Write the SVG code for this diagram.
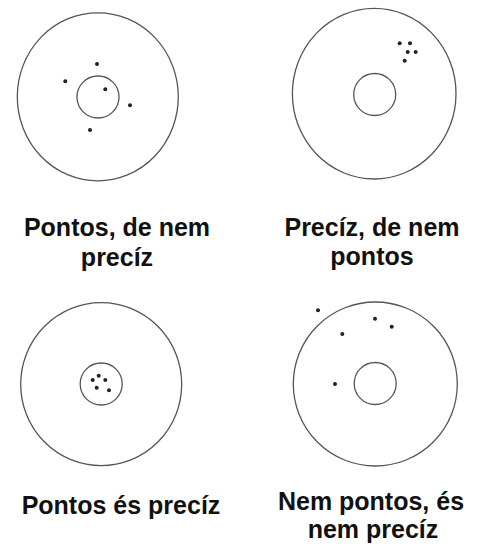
<svg xmlns="http://www.w3.org/2000/svg" width="481" height="546" viewBox="0 0 481 546">
<style>
.ring{fill:none;stroke:#555;stroke-width:1.3}
.dot{fill:#222}
.lbl{font-family:"Liberation Sans",Arial,sans-serif;font-weight:bold;font-size:25px;fill:#111;text-anchor:middle}
</style>
<rect width="481" height="546" fill="#fff"/>
<g id="target1">
<ellipse class="ring" cx="97.8" cy="96.8" rx="80.5" ry="84"/>
<circle class="ring" cx="98" cy="97" r="21"/>
<circle class="dot" cx="97" cy="64" r="2"/>
<circle class="dot" cx="65.3" cy="81.3" r="2"/>
<circle class="dot" cx="105.3" cy="89.3" r="2"/>
<circle class="dot" cx="130" cy="105.3" r="2"/>
<circle class="dot" cx="90" cy="130" r="2"/>
<text class="lbl" x="117" y="236">Pontos, de nem</text>
<text class="lbl" x="117" y="266">precíz</text>
</g>
<g id="target2">
<ellipse class="ring" cx="374.2" cy="93.7" rx="81.8" ry="85.3"/>
<circle class="ring" cx="374.7" cy="94.5" r="21"/>
<circle class="dot" cx="399.7" cy="43.3" r="2"/>
<circle class="dot" cx="410" cy="43.3" r="2"/>
<circle class="dot" cx="407.7" cy="52" r="2"/>
<circle class="dot" cx="415.7" cy="52" r="2"/>
<circle class="dot" cx="404.7" cy="60.7" r="2"/>
<text class="lbl" x="372" y="236">Precíz, de nem</text>
<text class="lbl" x="372" y="265">pontos</text>
</g>
<g id="target3">
<ellipse class="ring" cx="101.2" cy="384.2" rx="80.5" ry="81.5"/>
<circle class="ring" cx="101.2" cy="384" r="21"/>
<circle class="dot" cx="98.7" cy="375.7" r="2"/>
<circle class="dot" cx="92.7" cy="380" r="2"/>
<circle class="dot" cx="105.3" cy="380" r="2"/>
<circle class="dot" cx="96.7" cy="387.7" r="2"/>
<circle class="dot" cx="109" cy="390.3" r="2"/>
<text class="lbl" x="121" y="514">Pontos és precíz</text>
</g>
<g id="target4">
<ellipse class="ring" cx="375.3" cy="384" rx="82" ry="82"/>
<circle class="ring" cx="375.2" cy="383.5" r="21"/>
<circle class="dot" cx="318" cy="310.3" r="2"/>
<circle class="dot" cx="375" cy="318.7" r="2"/>
<circle class="dot" cx="391.7" cy="326.7" r="2"/>
<circle class="dot" cx="342.3" cy="334" r="2"/>
<circle class="dot" cx="335" cy="384" r="2"/>
<text class="lbl" x="371" y="510">Nem pontos, és</text>
<text class="lbl" x="373" y="538">nem precíz</text>
</g>
<g id="connectors"/>
</svg>
